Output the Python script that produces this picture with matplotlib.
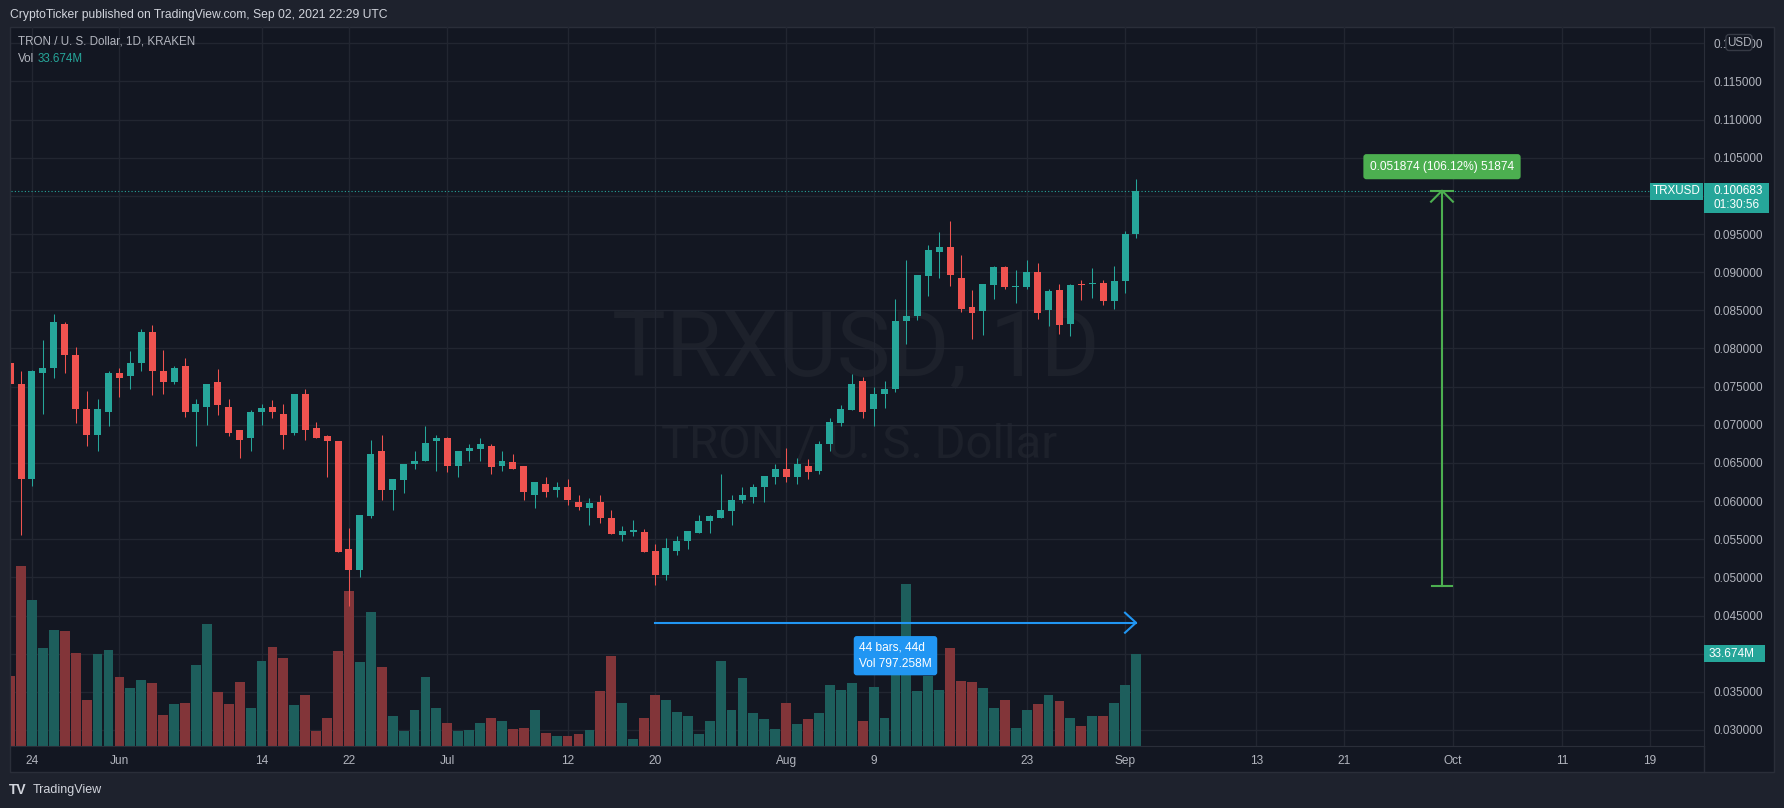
import numpy as np
import pandas as pd
import matplotlib
matplotlib.use("Agg")
import matplotlib.pyplot as plt
import matplotlib.dates as mdates
from matplotlib import transforms
from matplotlib.patches import Rectangle, FancyBboxPatch

# ----------------------------
# Data (TRXUSD daily, Kraken)
# ----------------------------
dates = pd.date_range("2021-05-22", periods=104, freq="D")

opens = [
    0.07806, 0.07530, 0.06296, 0.07685, 0.07740, 0.08327, 0.07921, 0.07203, 0.06862, 0.07163,
    0.07685, 0.07635, 0.07816, 0.08222, 0.07700, 0.07555, 0.07765, 0.07163, 0.07239, 0.07555,
    0.07239, 0.06928, 0.06822, 0.07173, 0.07229, 0.07148, 0.06887, 0.07399, 0.06963, 0.06847,
    0.06782, 0.05367, 0.05101, 0.05799, 0.06652, 0.06140, 0.06270, 0.06481, 0.06531, 0.06782,
    0.06832, 0.06466, 0.06652, 0.06677, 0.06727, 0.06466, 0.06506, 0.06456, 0.06075, 0.06230,
    0.06140, 0.06180, 0.05994, 0.05914, 0.05994, 0.05784, 0.05553, 0.05593, 0.05593, 0.05352,
    0.05036, 0.05347, 0.05478, 0.05588, 0.05733, 0.05784, 0.05864, 0.06009, 0.06060, 0.06180,
    0.06320, 0.06416, 0.06310, 0.06466, 0.06391, 0.06742, 0.07018, 0.07188, 0.07570, 0.07203,
    0.07409, 0.07464, 0.08357, 0.08423, 0.08944, 0.09270, 0.09326, 0.08929, 0.08538, 0.08488,
    0.08829, 0.09065, 0.08804, 0.08804, 0.09000, 0.08503, 0.08764, 0.08322, 0.08839, 0.08844,
    0.08864, 0.08618, 0.08879, 0.09501,
]
highs = [
    0.07936, 0.07710, 0.07720, 0.08117, 0.08448, 0.08342, 0.08016, 0.07449, 0.07334, 0.07700,
    0.07750, 0.07961, 0.08252, 0.08302, 0.07986, 0.07765, 0.07871, 0.07334, 0.07540, 0.07725,
    0.07334, 0.06928, 0.07188, 0.07279, 0.07319, 0.07279, 0.07409, 0.07474, 0.07033, 0.06872,
    0.06782, 0.05643, 0.05814, 0.06807, 0.06872, 0.06296, 0.06491, 0.06662, 0.06978, 0.06872,
    0.06842, 0.06662, 0.06742, 0.06832, 0.06742, 0.06652, 0.06611, 0.06456, 0.06255, 0.06310,
    0.06255, 0.06296, 0.06075, 0.06035, 0.06075, 0.05889, 0.05668, 0.05749, 0.05628, 0.05438,
    0.05518, 0.05543, 0.05608, 0.05814, 0.05824, 0.06351, 0.06085, 0.06190, 0.06230, 0.06335,
    0.06481, 0.06692, 0.06571, 0.06546, 0.06792, 0.07083, 0.07254, 0.07660, 0.07620, 0.07489,
    0.07570, 0.08643, 0.09155, 0.08969, 0.09351, 0.09521, 0.09677, 0.09220, 0.08764, 0.08839,
    0.09075, 0.09075, 0.09025, 0.09155, 0.09115, 0.08774, 0.08839, 0.08839, 0.08894, 0.09050,
    0.08904, 0.09075, 0.09541, 0.10219,
]
lows = [
    0.07083, 0.05553, 0.06195, 0.07148, 0.07610, 0.07675, 0.07018, 0.06717, 0.06652, 0.06978,
    0.07359, 0.07464, 0.07710, 0.07384, 0.07409, 0.07540, 0.07108, 0.06717, 0.06993, 0.07133,
    0.06847, 0.06571, 0.06662, 0.06993, 0.07083, 0.06677, 0.06872, 0.06807, 0.06822, 0.06320,
    0.05327, 0.04630, 0.05011, 0.05784, 0.06009, 0.05889, 0.06100, 0.06426, 0.06521, 0.06391,
    0.06376, 0.06320, 0.06521, 0.06521, 0.06361, 0.06391, 0.06426, 0.06019, 0.05914, 0.06060,
    0.06060, 0.05954, 0.05889, 0.05683, 0.05708, 0.05568, 0.05478, 0.05543, 0.05327, 0.04906,
    0.04971, 0.05287, 0.05367, 0.05578, 0.05588, 0.05774, 0.05693, 0.05969, 0.05969, 0.05984,
    0.06230, 0.06245, 0.06220, 0.06296, 0.06351, 0.06662, 0.06978, 0.07188, 0.07083, 0.06988,
    0.07214, 0.07424, 0.08056, 0.08372, 0.08683, 0.08929, 0.08814, 0.08478, 0.08122, 0.08172,
    0.08643, 0.08779, 0.08593, 0.08774, 0.08388, 0.08292, 0.08192, 0.08162, 0.08633, 0.08668,
    0.08568, 0.08518, 0.08724, 0.09446,
]
closes = [
    0.07530, 0.06290, 0.07710, 0.07740, 0.08342, 0.07911, 0.07203, 0.06872, 0.07203, 0.07685,
    0.07610, 0.07816, 0.08222, 0.07710, 0.07555, 0.07750, 0.07173, 0.07269, 0.07540, 0.07254,
    0.06897, 0.06797, 0.07173, 0.07214, 0.07173, 0.06872, 0.07399, 0.06938, 0.06822, 0.06782,
    0.05337, 0.05091, 0.05814, 0.06611, 0.06150, 0.06285, 0.06481, 0.06531, 0.06757, 0.06832,
    0.06466, 0.06662, 0.06692, 0.06742, 0.06441, 0.06521, 0.06426, 0.06115, 0.06245, 0.06125,
    0.06180, 0.06009, 0.05929, 0.05979, 0.05774, 0.05568, 0.05603, 0.05618, 0.05337, 0.05036,
    0.05387, 0.05478, 0.05608, 0.05744, 0.05799, 0.05879, 0.06019, 0.06075, 0.06190, 0.06335,
    0.06416, 0.06320, 0.06481, 0.06376, 0.06742, 0.07043, 0.07203, 0.07530, 0.07173, 0.07409,
    0.07464, 0.08357, 0.08423, 0.08969, 0.09286, 0.09326, 0.08959, 0.08513, 0.08463, 0.08839,
    0.09065, 0.08804, 0.08824, 0.09000, 0.08463, 0.08749, 0.08307, 0.08829, 0.08829, 0.08864,
    0.08618, 0.08879, 0.09506, 0.100683,
]
# volume in millions
volumes = [
    25.4, 65.9, 53.4, 35.8, 42.4, 42.0, 33.8, 16.9, 33.5, 34.9,
    25.1, 21.0, 24.0, 22.8, 11.4, 15.1, 15.8, 29.5, 44.5, 19.6,
    15.1, 23.3, 13.7, 31.0, 36.1, 32.0, 14.8, 18.5, 5.5, 10.0,
    34.7, 56.8, 30.6, 49.0, 28.7, 10.7, 5.2, 13.2, 25.1, 13.7,
    8.2, 5.2, 5.9, 8.2, 10.3, 8.9, 6.2, 6.6, 13.2, 4.8,
    3.4, 3.7, 4.1, 5.9, 19.9, 32.8, 15.5, 2.3, 10.0, 18.7,
    16.9, 12.5, 11.0, 4.4, 8.9, 31.0, 13.0, 24.7, 11.8, 9.6,
    6.2, 15.8, 7.8, 9.6, 12.1, 22.4, 20.3, 22.8, 9.2, 21.4,
    10.3, 37.8, 59.3, 19.9, 25.4, 20.3, 35.8, 23.5, 23.3, 21.0,
    13.7, 16.6, 6.6, 13.2, 15.1, 18.5, 16.2, 10.0, 7.1, 11.0,
    11.0, 15.5, 22.4, 33.674,
]

tick_dates = ["2021-05-24", "2021-06-01", "2021-06-14", "2021-06-22", "2021-07-01",
              "2021-07-12", "2021-07-20", "2021-08-01", "2021-08-09", "2021-08-23",
              "2021-09-01", "2021-09-13", "2021-09-21", "2021-10-01", "2021-10-11",
              "2021-10-19"]
tick_labels = ["24", "Jun", "14", "22", "Jul", "12", "20", "Aug", "9", "23",
               "Sep", "13", "21", "Oct", "11", "19"]
price_ticks = [0.030, 0.035, 0.040, 0.045, 0.050, 0.055, 0.060, 0.065, 0.070,
               0.075, 0.080, 0.085, 0.090, 0.095, 0.100, 0.105, 0.110, 0.115, 0.120]
# labels sitting under the last-price / volume tags are hidden, as in the app
price_labels = ["" if t in (0.040, 0.100) else f"{t:.6f}" for t in price_ticks]

# measure tools
range_start, range_end, range_price = "2021-07-20", "2021-09-02", 0.044063
range_text = "44 bars, 44d\nVol 797.258M"
move_date, move_low, move_high = "2021-09-30", 0.048809, 0.100683
move_text = "0.051874 (106.12%) 51874"

# ----------------------------
# Style
# ----------------------------
W, H = 1784, 808
BG = "#131722"
FRAME = "#1e222d"
GRID = "#222631"
AXIS_TXT = "#b2b5be"
UP, DOWN = "#26a69a", "#ef5350"
UP_VOL, DOWN_VOL = "#1d5e5c", "#823539"
WATERMARK = "#1d212b"
plt.rcParams["font.family"] = ["Liberation Sans", "DejaVu Sans"]

fig = plt.figure(figsize=(W / 100, H / 100), dpi=100, facecolor=FRAME)

# background layer (panel + watermark)
bg = fig.add_axes([0, 0, 1, 1], zorder=0)
bg.set_xlim(0, W)
bg.set_ylim(H, 0)
bg.axis("off")
bg.add_patch(Rectangle((10, 27), 1764, 745, facecolor=BG, edgecolor="#2a2e39", lw=1))
bg.text(856, 376, "TRXUSD, 1D", ha="center", va="baseline", fontsize=65,
        family=["Roboto", "DejaVu Sans"], color=WATERMARK)
bg.text(859, 458, "TRON / U. S. Dollar", ha="center", va="baseline", fontsize=34,
        family=["Roboto", "DejaVu Sans"], color=WATERMARK)

# main price axes
ax = fig.add_axes([11 / W, 1 - 745.7 / H, 1693 / W, 718.7 / H], zorder=1)
ax.patch.set_visible(False)

x = mdates.date2num(dates)
o = np.array(opens)
hi = np.array(highs)
lo = np.array(lows)
c = np.array(closes)
v = np.array(volumes)
up = c >= o
cols = np.where(up, UP, DOWN)
vcols = np.where(up, UP_VOL, DOWN_VOL)

# volume overlay: bottom of the pane, 33.674M ~ 92 px tall
VOL_TOP = 33.674 * 718.7 / 92
vol_trans = transforms.blended_transform_factory(
    ax.transData, transforms.Affine2D().scale(1, 1 / VOL_TOP) + ax.transAxes)
ax.bar(x, v, width=0.9, color=vcols, transform=vol_trans, zorder=1)

# candles
ax.vlines(x, lo, hi, colors=cols, linewidth=0.75, zorder=2)
body_h = np.maximum(np.abs(c - o), 0.00013)
ax.bar(x, body_h, bottom=np.minimum(o, c), width=0.64, color=cols, zorder=3)

# last price line
ax.axhline(c[-1], color=UP, linestyle=(0, (1, 2)), linewidth=0.8, zorder=2)

# range tool (blue)
xs, xe = mdates.datestr2num(range_start), mdates.datestr2num(range_end)
dy = 10 / 7630
ax.plot([xs, xe], [range_price, range_price], color="#2196f3", lw=1.5, zorder=4)
ax.plot([xe - 1, xe, xe - 1], [range_price + dy, range_price, range_price - dy],
        color="#2196f3", lw=1.5, zorder=4)
ax.annotate(range_text, xy=((xs + xe) / 2, range_price), xytext=(0, -33),
            textcoords="offset pixels", ha="center", va="center", multialignment="left",
            color="white", fontsize=8.6, linespacing=1.5, zorder=6,
            bbox=dict(boxstyle="round,pad=0.45,rounding_size=0.25", fc="#2196f3", ec="none"))

# price move tool (green)
xm = mdates.datestr2num(move_date)
ax.plot([xm, xm], [move_low, move_high], color="#4caf50", lw=1.5, zorder=4)
ax.plot([xm - 1, xm + 1], [move_high, move_high], color="#4caf50", lw=1.5, zorder=4)
ax.plot([xm - 1, xm, xm + 1], [move_high - dy * 1.1, move_high, move_high - dy * 1.1],
        color="#4caf50", lw=1.5, zorder=4)
ax.plot([xm - 0.95, xm + 0.95], [move_low, move_low], color="#4caf50", lw=1.5, zorder=4)
ax.annotate(move_text, xy=(xm, move_high), xytext=(0, 24), textcoords="offset pixels",
            ha="center", va="center", color="white", fontsize=8.6, zorder=6,
            bbox=dict(boxstyle="round,pad=0.55,rounding_size=0.25", fc="#4caf50", ec="none"))

# axes, ticks, grid
x0 = mdates.datestr2num("2021-05-24")
ax.set_xlim(x0 - 1.921, x0 + 152.97)
ax.set_ylim(0.027942, 0.122136)
ax.yaxis.tick_right()
ax.set_yticks(price_ticks)
ax.set_yticklabels(price_labels)
ax.set_xticks(mdates.datestr2num(tick_dates))
ax.set_xticklabels(tick_labels)
ax.tick_params(axis="y", length=0, pad=7.2, labelcolor=AXIS_TXT, labelsize=8.5)
ax.tick_params(axis="x", length=0, pad=6.5, labelcolor=AXIS_TXT, labelsize=8.6)
ax.grid(True, color=GRID, linewidth=1.0)
ax.set_axisbelow(True)
for side in ("top", "left"):
    ax.spines[side].set_visible(False)
for side in ("right", "bottom"):
    ax.spines[side].set_color("#2a2e39")

# overlay layer: header, legend, axis tags
ov = fig.add_axes([0, 0, 1, 1], zorder=2)
ov.set_xlim(0, W)
ov.set_ylim(H, 0)
ov.axis("off")
ov.patch.set_visible(False)
ov.plot([1704, 1704], [746, 772], color="#2a2e39", lw=1)

ov.text(9.5, 15, "CryptoTicker published on TradingView.com, Sep 02, 2021 22:29 UTC",
        ha="left", va="center", fontsize=8.7, color="#d1d4dc")
ov.text(18, 41.5, "TRON / U. S. Dollar, 1D, KRAKEN", ha="left", va="center",
        fontsize=8.4, color=AXIS_TXT)
ov.text(18, 58.5, "Vol", ha="left", va="center", fontsize=8.4, color=AXIS_TXT)
ov.text(38, 58.5, "33.674M", ha="left", va="center", fontsize=8.4, color=UP)

# footer logo
ov.text(9, 790.5, "TV", ha="left", va="center", fontsize=10, fontweight="bold", color="#d1d4dc")
ov.text(33, 790.5, "TradingView", ha="left", va="center", fontsize=9.0, color="#d1d4dc")


def to_px(xd, yd):
    px, py = ax.transData.transform((xd, yd))
    return px, H - py


# last price tags
_, yc = to_px(x[-1], c[-1])
ov.add_patch(Rectangle((1650, yc - 8), 53, 17, facecolor=UP, edgecolor="none"))
ov.text(1676.5, yc + 0.5, "TRXUSD", ha="center", va="center", fontsize=8.4, color="white")
ov.add_patch(Rectangle((1704, yc - 8), 65, 30.5, facecolor=UP, edgecolor="none"))
ov.text(1714, yc + 0.5, f"{c[-1]:.6f}", ha="left", va="center", fontsize=8.5, color="white")
ov.text(1714, yc + 14.5, "01:30:56", ha="left", va="center", fontsize=8.5, color="white")

# volume tag
_, yvp = ax.transAxes.transform((0, v[-1] / VOL_TOP))
yvp = H - yvp
ov.add_patch(Rectangle((1704, yvp - 8.5), 61, 17, facecolor=UP, edgecolor="none"))
ov.text(1709, yvp + 0.5, f"{v[-1]:.3f}M", ha="left", va="center", fontsize=8.5, color="white")

# currency badge over the top price label
ov.add_patch(FancyBboxPatch((1726, 34.5), 26, 16, boxstyle="round,pad=0,rounding_size=3",
                            facecolor=BG, edgecolor="#363a45", lw=1))
ov.text(1739, 43, "USD", ha="center", va="center", fontsize=8.4, color=AXIS_TXT)

fig.savefig("out.png", dpi=100, facecolor=FRAME)
